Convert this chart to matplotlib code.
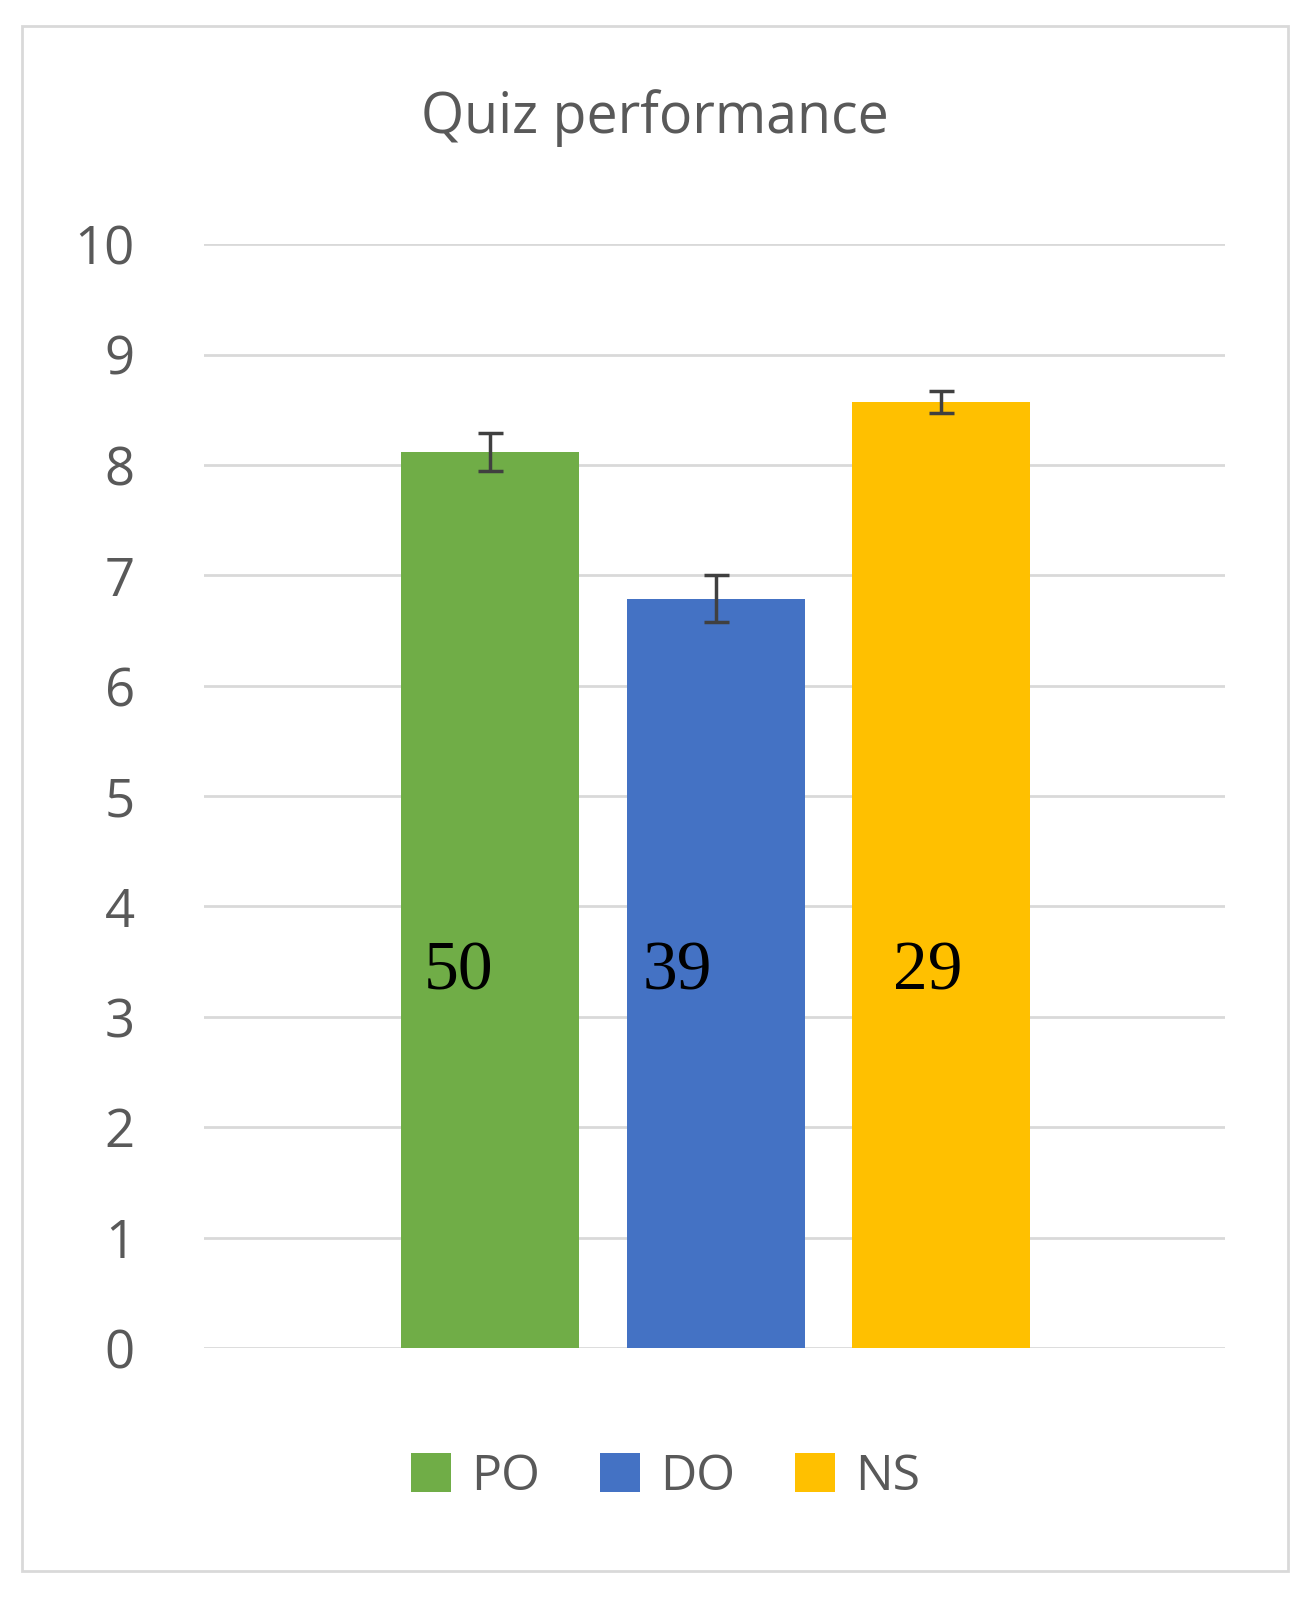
import matplotlib
matplotlib.use("Agg")
import matplotlib.pyplot as plt
from matplotlib.patches import Rectangle

groups = ["PO", "DO", "NS"]
means = [8.12, 6.79, 8.57]
errors = [0.17, 0.21, 0.10]
counts = ["50", "39", "29"]
colors = ["#70AD47", "#4472C4", "#FFC000"]
yticks = list(range(0, 11))

fig = plt.figure(figsize=(13.1, 15.97), dpi=100)
fig.patches.append(Rectangle((0.017, 0.016), 0.966, 0.968, transform=fig.transFigure,
                             fill=False, edgecolor="#D9D9D9", linewidth=2))
ax = fig.add_axes([0.156, 0.156, 0.779, 0.691])
x = [0, 1, 2]
for xi, m, e, c, g, n in zip(x, means, errors, colors, groups, counts):
    ax.bar(xi, m, width=0.79, color=c, label=g, zorder=2)
    ax.errorbar(xi, m, yerr=e, fmt="none", ecolor="#404040", elinewidth=2.5,
                capsize=9, capthick=2.5, zorder=3)
    ax.text(xi - 0.14 if xi == 0 else xi - 0.17 if xi == 1 else xi - 0.06, 3.4, n,
            fontsize=50, family="Liberation Serif", ha="center", va="center", zorder=4)
ax.set_xlim(-1.27, 3.26)
ax.set_ylim(0, 10)
ax.set_yticks(yticks)
ax.set_xticks([])
ax.grid(axis="y", color="#D9D9D9", linewidth=2, zorder=0)
for s in ax.spines.values():
    s.set_visible(False)
ax.tick_params(axis="y", length=0, labelsize=38, labelcolor="#595959", pad=50)
for lbl in ax.get_yticklabels():
    lbl.set_family("Open Sans")
fig.text(0.5, 0.926, "Quiz performance", ha="center", va="center",
         fontsize=40, color="#595959", family="Open Sans")
fig.legend(loc="center", bbox_to_anchor=(0.508, 0.075), ncol=3, frameon=False,
           prop={"family": "Open Sans", "size": 36}, labelcolor="#595959",
           handlelength=0.8, handleheight=0.8, handletextpad=0.4, columnspacing=1.2)
fig.savefig("out.png", dpi=100)
